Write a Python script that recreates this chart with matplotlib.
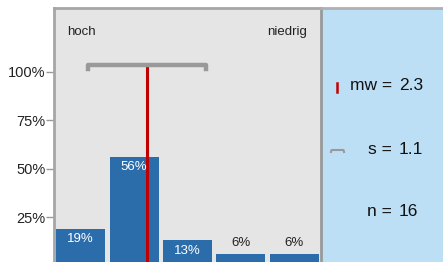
import numpy as np
import matplotlib.pyplot as plt

plt.rcParams['font.family'] = ['Liberation Sans', 'DejaVu Sans']

# data
categories = [1, 2, 3, 4, 5]
shares = [19, 56, 13, 6, 6]
share_labels = ['19%', '56%', '13%', '6%', '6%']
mw_label = '2.3'
s = 1.1
s_label = '1.1'
n_label = '16'
yticks = [25, 50, 75, 100]
ytick_labels = ['25%', '50%', '75%', '100%']

bar_color = '#2b6cab'
bg = '#e5e5e5'
panel = '#bddff5'
border = '#a6a6a6'

# mean position computed from the distribution
mw = np.average(categories, weights=shares)

fig = plt.figure(figsize=(4.43, 2.62), dpi=100)
ax = fig.add_axes([54 / 443, 0, 267 / 443, 254 / 262])
ax.set_facecolor(bg)
ax.bar(categories, shares, width=0.92, color=bar_color, zorder=2)
ax.set_xlim(0.5, 5.5)
ax.set_ylim(1.8, 133)

for x, v, lab in zip(categories, shares, share_labels):
    if v > 10:
        ax.text(x, v - 2.2, lab, ha='center', va='top', color='white', fontsize=9.5, zorder=4)
    else:
        ax.text(x, v + 2.5, lab, ha='center', va='bottom', color='#222222', fontsize=9.5, zorder=4)

# mean line and std bracket
ax.plot([mw, mw], [0, 103.5], color='#c00000', lw=2.2, zorder=3)
ax.plot([mw - s, mw - s, mw + s, mw + s], [101.5, 103.8, 103.8, 101.5],
        color='#999999', lw=3.2, solid_joinstyle='round', zorder=3)

ax.text(0.05, 0.905, 'hoch', transform=ax.transAxes, fontsize=9.5, color='#222222', va='center')
ax.text(0.948, 0.905, 'niedrig', transform=ax.transAxes, fontsize=9.5, color='#222222',
        va='center', ha='right')

ax.set_xticks([])
ax.set_yticks(yticks)
ax.set_yticklabels(ytick_labels, fontsize=10.5, color='#222222')
ax.tick_params(axis='y', length=6, width=1, color='#999999', pad=0)
for side in ['bottom', 'right']:
    ax.spines[side].set_visible(False)
for side in ['top', 'left']:
    ax.spines[side].set_color(border)
    ax.spines[side].set_linewidth(2)

# right panel
ax2 = fig.add_axes([321 / 443, 0, 122 / 443, 254 / 262])
ax2.set_facecolor(panel)
ax2.set_xlim(0, 122)
ax2.set_ylim(254, 0)
ax2.set_xticks([])
ax2.set_yticks([])
for side in ['bottom', 'right']:
    ax2.spines[side].set_visible(False)
ax2.spines['top'].set_color('#b0b0b0')
ax2.spines['top'].set_linewidth(2)
ax2.spines['left'].set_color('#999999')
ax2.spines['left'].set_linewidth(2)

ax2.plot([16, 16], [75, 84], color='#c00000', lw=1.8)
ax2.plot([10, 10.5, 22.5, 23], [144, 142, 142, 144], color='#999999', lw=1.5)

rows = [('mw', mw_label, 77.5), ('s', s_label, 142), ('n', n_label, 204)]
for name, val, y in rows:
    ax2.text(71, y, name + ' =', fontsize=12.5, va='center', ha='right', color='#111111')
    ax2.text(78, y, val, fontsize=12.5, va='center', ha='left', color='#111111')

fig.savefig('out.png', dpi=100)
